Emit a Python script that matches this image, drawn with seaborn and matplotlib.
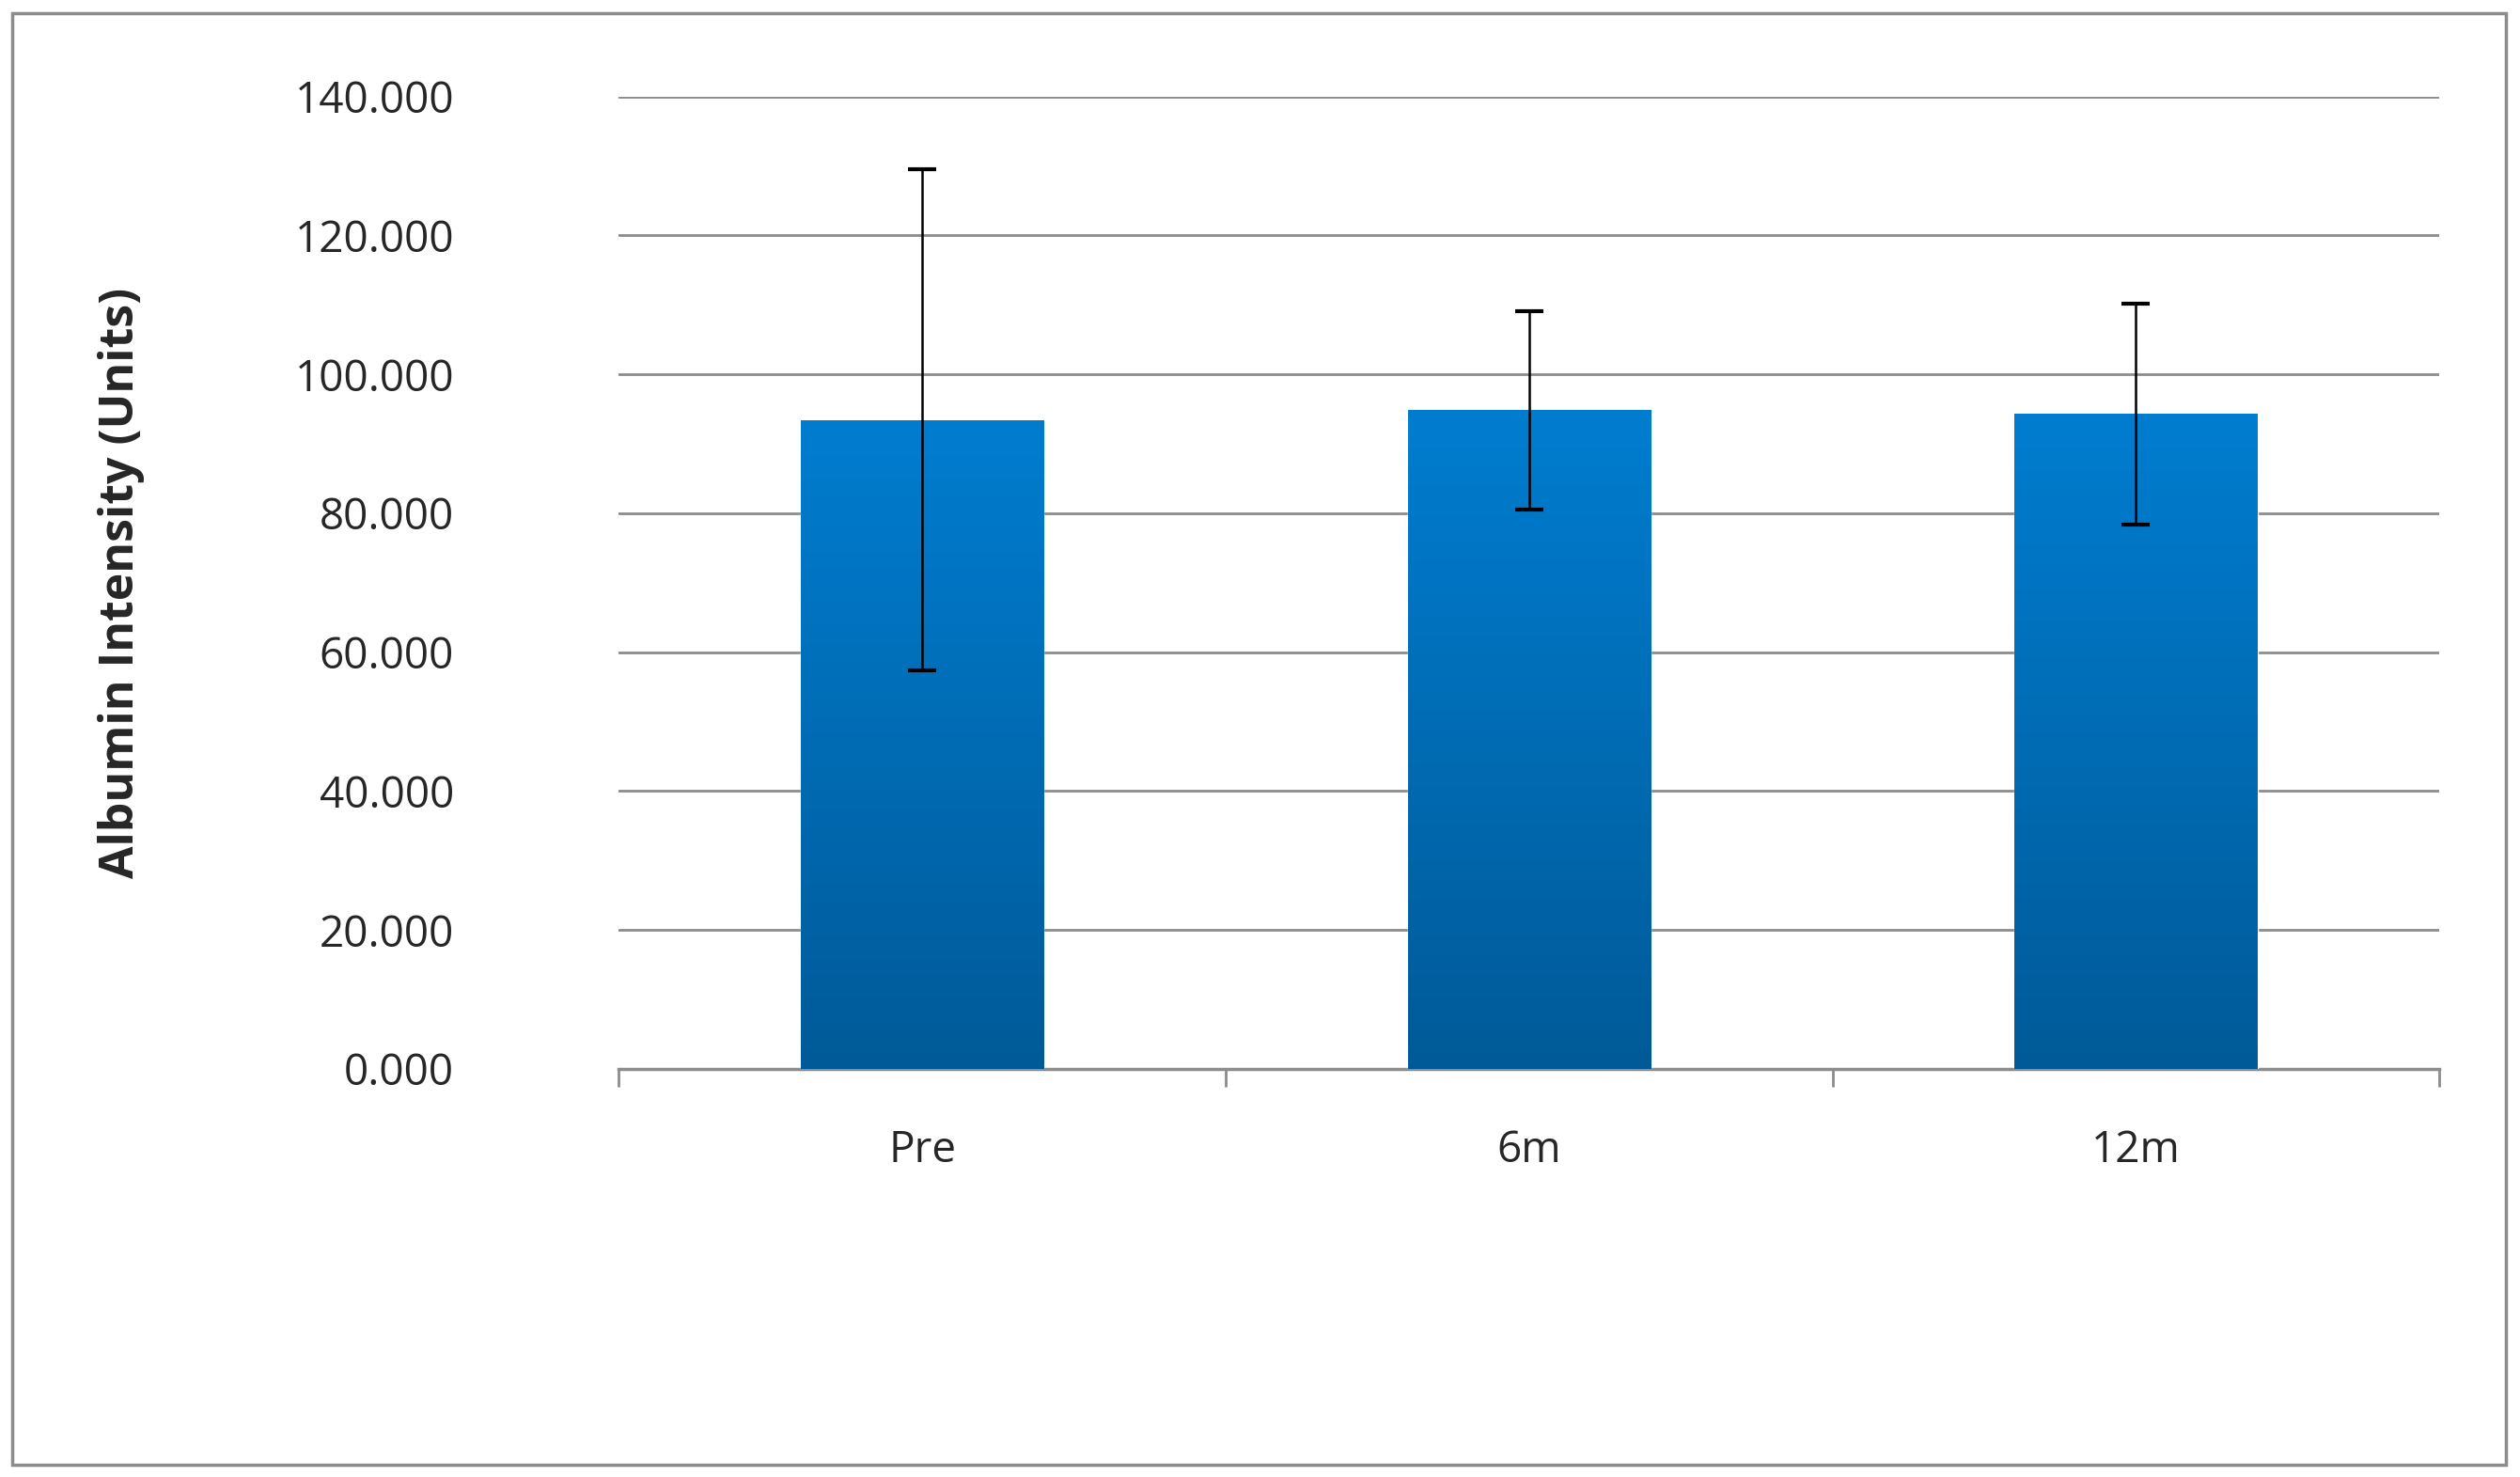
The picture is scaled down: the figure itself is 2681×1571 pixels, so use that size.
import matplotlib
matplotlib.use("Agg")
import matplotlib.pyplot as plt
import matplotlib.transforms as mtransforms
import seaborn as sns
import numpy as np
import pandas as pd
from matplotlib.patches import Rectangle

# data
timepoints = ["Pre", "6m", "12m"]
albumin_mean = [93.4, 94.8, 94.3]
albumin_err = [36.1, 14.3, 15.9]
y_ticks = [0, 20, 40, 60, 80, 100, 120, 140]

df = pd.DataFrame({"timepoint": timepoints, "albumin": albumin_mean, "err": albumin_err})

sns.set_theme(style="white")
plt.rcParams["font.family"] = ["Open Sans", "DejaVu Sans"]

fig = plt.figure(figsize=(26.81, 15.71), dpi=100)
ax = fig.add_axes([0.2455, 0.2764, 0.7225, 0.6583])

# grey frame round the whole chart
fig.patches.append(Rectangle((0.005, 0.008), 0.9895, 0.983, transform=fig.transFigure,
                             fill=False, edgecolor="#8c8c8c", linewidth=2.5))

sns.barplot(data=df, x="timepoint", y="albumin", ax=ax, width=0.4,
            color="#0078c8", saturation=1, errorbar=None, zorder=3)

# vertical gradient on each bar, like the Excel fill
grad = np.linspace(1, 0, 256).reshape(-1, 1)
cmap = matplotlib.colors.LinearSegmentedColormap.from_list("blu", ["#005a98", "#007dd0"])
for p in ax.patches:
    x0, y0 = p.get_x(), p.get_y()
    w, h = p.get_width(), p.get_height()
    im = ax.imshow(grad, extent=[x0, x0 + w, y0, y0 + h], aspect="auto",
                   cmap=cmap, origin="upper", zorder=3.5)
    im.set_clip_path(p)

ax.errorbar(x=np.arange(len(timepoints)), y=df["albumin"], yerr=df["err"],
            fmt="none", ecolor="black", elinewidth=1.8, capsize=11, capthick=3, zorder=5)

ax.set_xlim(-0.5, len(timepoints) - 0.5)
ax.set_ylim(0, 140)
ax.set_yticks(y_ticks)
ax.set_yticklabels([f"{v:.3f}" for v in y_ticks], fontsize=33)
ax.yaxis.grid(True, color="#8c8c8c", linewidth=2)
ax.set_axisbelow(True)

# Excel draws the value labels a touch below their gridline
shift = mtransforms.ScaledTranslation(0, -6 / 72, fig.dpi_scale_trans)
for lbl in ax.get_yticklabels():
    lbl.set_transform(lbl.get_transform() + shift)

# ticks at category boundaries, labels in the middle
ax.set_xticks(np.arange(len(timepoints) + 1) - 0.5)
ax.set_xticklabels([])
ax.set_xticks(np.arange(len(timepoints)), minor=True)
ax.set_xticklabels(timepoints, minor=True, fontsize=33)
ax.tick_params(axis="x", which="major", length=14, width=2, color="#8c8c8c", bottom=True)
ax.tick_params(axis="x", which="minor", length=0, pad=46)
ax.tick_params(axis="y", length=0, pad=126)

for s in ["top", "right", "left"]:
    ax.spines[s].set_visible(False)
ax.spines["bottom"].set_color("#8c8c8c")
ax.spines["bottom"].set_linewidth(2.5)

ax.set_xlabel("")
ax.set_ylabel("Albumin Intensity (Units)", fontsize=36, fontweight="bold", labelpad=115)

fig.savefig("out.png", dpi=100)
